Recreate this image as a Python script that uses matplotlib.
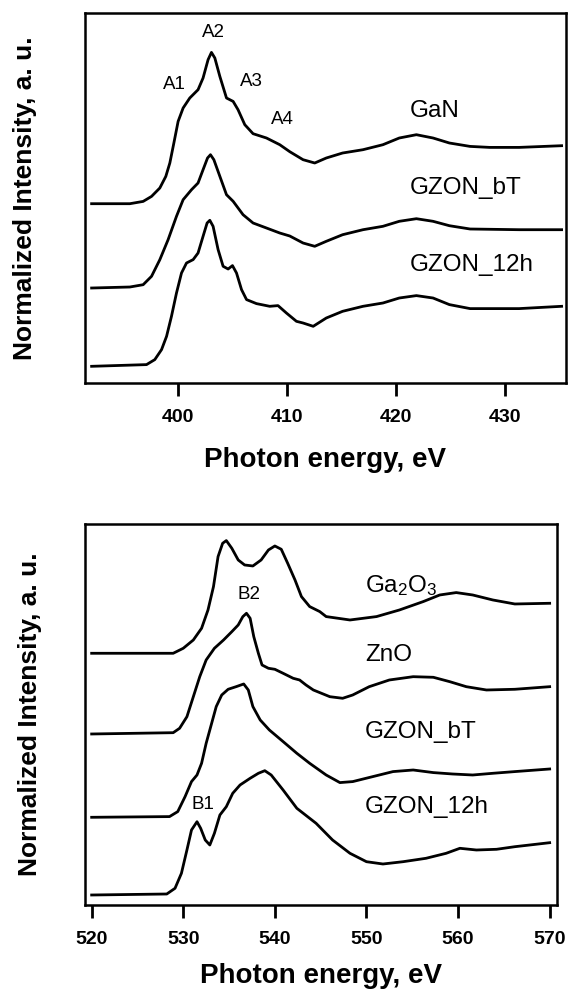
import matplotlib
matplotlib.use("Agg")
import matplotlib.pyplot as plt

plt.rcParams["font.family"] = ["Liberation Sans", "DejaVu Sans"]
plt.rcParams["mathtext.default"] = "regular"

# --- N K-edge (top panel) ---
e_gan = [392.06, 395.57, 396.79, 397.56, 398.32, 398.87, 399.24, 399.61, 400.0, 400.46,
         401.07, 401.83, 402.29, 402.75, 403.06, 403.37, 403.83, 404.44, 405.05, 405.5,
         406.12, 406.88, 408.11, 409.33, 410.25, 411.47, 412.54, 413.6, 415.1, 416.97,
         418.8, 420.3, 421.87, 423.4, 424.9, 426.8, 428.6, 431.3, 435.2]
i_gan = [0, 0, 0.23, 0.73, 1.57, 2.73, 4.07, 6.07, 8.23, 9.57,
         10.57, 11.4, 12.57, 14.4, 15.13, 14.57, 12.73, 10.57, 10.23, 9.4,
         7.9, 7.0, 6.57, 5.9, 5.2, 4.4, 4.07, 4.57, 5.07, 5.4,
         5.9, 6.57, 6.9, 6.57, 6.07, 5.73, 5.63, 5.63, 5.8]

e_n_bt = [392.06, 395.57, 396.79, 397.56, 398.32, 399.08, 399.85, 400.46, 401.23, 401.83,
          402.29, 402.7, 402.97, 403.28, 403.83, 404.44, 405.05, 405.96, 406.88, 408.11,
          409.33, 410.25, 411.47, 412.54, 413.6, 415.1, 416.97, 418.8, 420.3, 421.87,
          423.4, 424.9, 426.8, 431.3, 435.2]
i_n_bt = [0, 0.1, 0.33, 1.17, 2.83, 4.83, 7.17, 8.83, 9.83, 10.5,
          11.83, 13.0, 13.33, 12.83, 11.17, 9.33, 8.67, 7.33, 6.5, 6.0,
          5.5, 5.2, 4.5, 4.17, 4.67, 5.33, 5.83, 6.17, 6.67, 6.93,
          6.67, 6.23, 5.9, 5.83, 5.83]

e_n_12h = [392.06, 397.1, 397.86, 398.48, 398.94, 399.39, 399.85, 400.31, 400.77, 401.38,
           401.83, 402.29, 402.66, 402.91, 403.21, 403.67, 404.13, 404.59, 404.99, 405.36,
           405.82, 406.28, 407.19, 408.41, 409.17, 409.94, 410.86, 411.47, 412.4, 413.6,
           415.1, 416.97, 418.8, 420.3, 421.87, 423.4, 424.9, 426.8, 431.3, 435.2]
i_n_12h = [0, 0.17, 0.67, 1.67, 3.0, 5.0, 7.33, 9.33, 10.33, 10.67,
           11.33, 13.0, 14.33, 14.6, 14.0, 11.67, 10.0, 9.73, 10.07, 9.33,
           7.67, 6.67, 6.27, 6.0, 6.07, 5.33, 4.5, 4.33, 4.0, 4.83,
           5.5, 6.0, 6.33, 6.83, 7.07, 6.83, 6.17, 5.77, 5.77, 6.0]

n_names = ["GaN", "GZON_bT", "GZON_12h"]
n_offsets = [17.93, 9.5, 1.67]

# --- O K-edge (bottom panel) ---
e_ga2o3 = [520, 528.9, 530.0, 531.1, 532.0, 532.7, 533.3, 533.8, 534.3, 534.7,
           535.3, 536.0, 536.7, 537.6, 538.5, 539.3, 540.0, 540.7, 541.4, 542.2,
           542.9, 543.8, 544.9, 545.6, 548.2, 551.1, 553.6, 556.2, 558.0, 559.8,
           561.6, 563.8, 566.2, 570]
i_ga2o3 = [0, 0, 0.5, 1.33, 2.5, 4.33, 6.67, 9.67, 11.0, 11.27,
           10.5, 9.33, 8.83, 8.73, 9.33, 10.33, 10.73, 10.4, 9.0, 7.33,
           5.67, 4.67, 4.17, 3.67, 3.33, 3.67, 4.33, 5.17, 5.83, 6.07,
           5.83, 5.33, 4.93, 5.0]

e_zno = [520, 528.9, 529.6, 530.4, 531.1, 531.8, 532.5, 533.4, 534.4, 535.3,
         536.0, 536.5, 536.9, 537.3, 537.7, 538.2, 538.6, 539.3, 540.0, 540.9,
         542.0, 542.7, 543.4, 544.2, 546.0, 547.4, 548.5, 550.3, 552.5, 555.1,
         557.3, 559.1, 560.9, 563.1, 566.2, 570]
i_zno = [0, 0.13, 0.57, 1.73, 3.73, 5.73, 7.4, 8.57, 9.4, 10.23,
         10.9, 11.73, 12.07, 11.57, 9.73, 8.07, 6.9, 6.57, 6.47, 6.07,
         5.57, 5.4, 4.9, 4.4, 3.73, 3.57, 3.9, 4.73, 5.4, 5.73,
         5.67, 5.23, 4.73, 4.4, 4.47, 4.73]

e_o_bt = [520, 528.5, 529.4, 530.2, 530.9, 531.5, 532.0, 532.5, 533.1, 533.6,
          534.2, 534.9, 535.8, 536.6, 537.1, 537.6, 538.4, 539.4, 540.9, 542.4,
          543.8, 545.6, 547.1, 548.5, 550.7, 552.9, 555.1, 557.3, 559.4, 561.6,
          563.8, 566.2, 570]
i_o_bt = [0, 0.07, 0.57, 2.07, 3.57, 4.23, 5.4, 7.4, 9.4, 11.07,
          12.23, 12.8, 13.07, 13.33, 12.73, 11.07, 9.73, 8.73, 7.57, 6.4,
          5.4, 4.23, 3.47, 3.57, 4.07, 4.57, 4.73, 4.47, 4.33, 4.23,
          4.4, 4.57, 4.83]

e_o_12h = [520, 528.2, 529.1, 529.8, 530.4, 530.9, 531.5, 531.9, 532.4, 532.9,
           533.4, 534.0, 534.7, 535.4, 536.2, 537.3, 538.2, 538.9, 539.6, 540.9,
           542.4, 544.5, 546.3, 548.2, 550.0, 551.8, 554.0, 556.5, 558.7, 560.2,
           562.0, 564.2, 566.2, 570]
i_o_12h = [0, 0.1, 0.67, 2.17, 4.5, 6.5, 7.33, 6.67, 5.5, 5.0,
           6.17, 8.0, 8.83, 10.17, 11.0, 11.67, 12.17, 12.43, 12.0, 10.5,
           8.67, 7.17, 5.5, 4.17, 3.33, 3.1, 3.33, 3.67, 4.17, 4.67,
           4.5, 4.57, 4.83, 5.23]

o_names = ["Ga$_2$O$_3$", "ZnO", "GZON_bT", "GZON_12h"]
o_offsets = [25.17, 17.1, 8.77, 1.0]

# peak labels: (text, energy, height)
a_peaks = [("A1", 399.7, 29.83), ("A2", 403.2, 35.0), ("A3", 406.7, 30.17), ("A4", 409.6, 26.4)]
b_peaks = [("B1", 532.2, 10.0), ("B2", 537.2, 31.0)]
n_label_y = [27.17, 19.5, 11.83]
o_label_y = [31.9, 25.0, 17.33, 9.8]

fig = plt.figure(figsize=(5.68, 9.92), dpi=100)
ax1 = fig.add_axes([0.1496, 0.6139, 0.8468, 0.3733])
ax2 = fig.add_axes([0.1496, 0.0877, 0.831, 0.3841])

lw = 2.0
for e, i, off in zip([e_gan, e_n_bt, e_n_12h], [i_gan, i_n_bt, i_n_12h], n_offsets):
    ax1.plot(e, [v + off for v in i], color="black", lw=lw, solid_joinstyle="round")
for name, y in zip(n_names, n_label_y):
    ax1.text(421.3, y, name, fontsize=17.5, va="center", ha="left")
for name, x, y in a_peaks:
    ax1.text(x, y, name, fontsize=13.5, ha="center", va="center")
ax1.set_xlim(391.45, 435.6)
ax1.set_ylim(0, 37.03)
ax1.set_xticks([400, 410, 420, 430])

for e, i, off in zip([e_ga2o3, e_zno, e_o_bt, e_o_12h], [i_ga2o3, i_zno, i_o_bt, i_o_12h], o_offsets):
    ax2.plot(e, [v + off for v in i], color="black", lw=lw, solid_joinstyle="round")
for name, y in zip(o_names, o_label_y):
    ax2.text(549.85, y, name, fontsize=17.5, va="center", ha="left")
for name, x, y in b_peaks:
    ax2.text(x, y, name, fontsize=13.5, ha="center", va="center")
ax2.set_xlim(519.27, 570.8)
ax2.set_ylim(0, 38.1)
ax2.set_xticks([520, 530, 540, 550, 560, 570])

for ax, ylx, xly in [(ax1, -0.1, -0.174), (ax2, -0.091, -0.152)]:
    ax.set_yticks([])
    for s in ax.spines.values():
        s.set_linewidth(1.8)
    ax.tick_params(axis="x", direction="out", length=9.5, width=2.0, pad=9, labelsize=14)
    for t in ax.get_xticklabels():
        t.set_fontweight("bold")
    ax.set_xlabel("Photon energy, eV", fontsize=20, fontweight="bold", va="top")
    ax.set_ylabel("Normalized Intensity, a. u.", fontsize=19, fontweight="bold")
    ax.xaxis.set_label_coords(0.5, xly)
    ax.yaxis.set_label_coords(ylx, 0.5)

fig.savefig("out.png", dpi=100)
